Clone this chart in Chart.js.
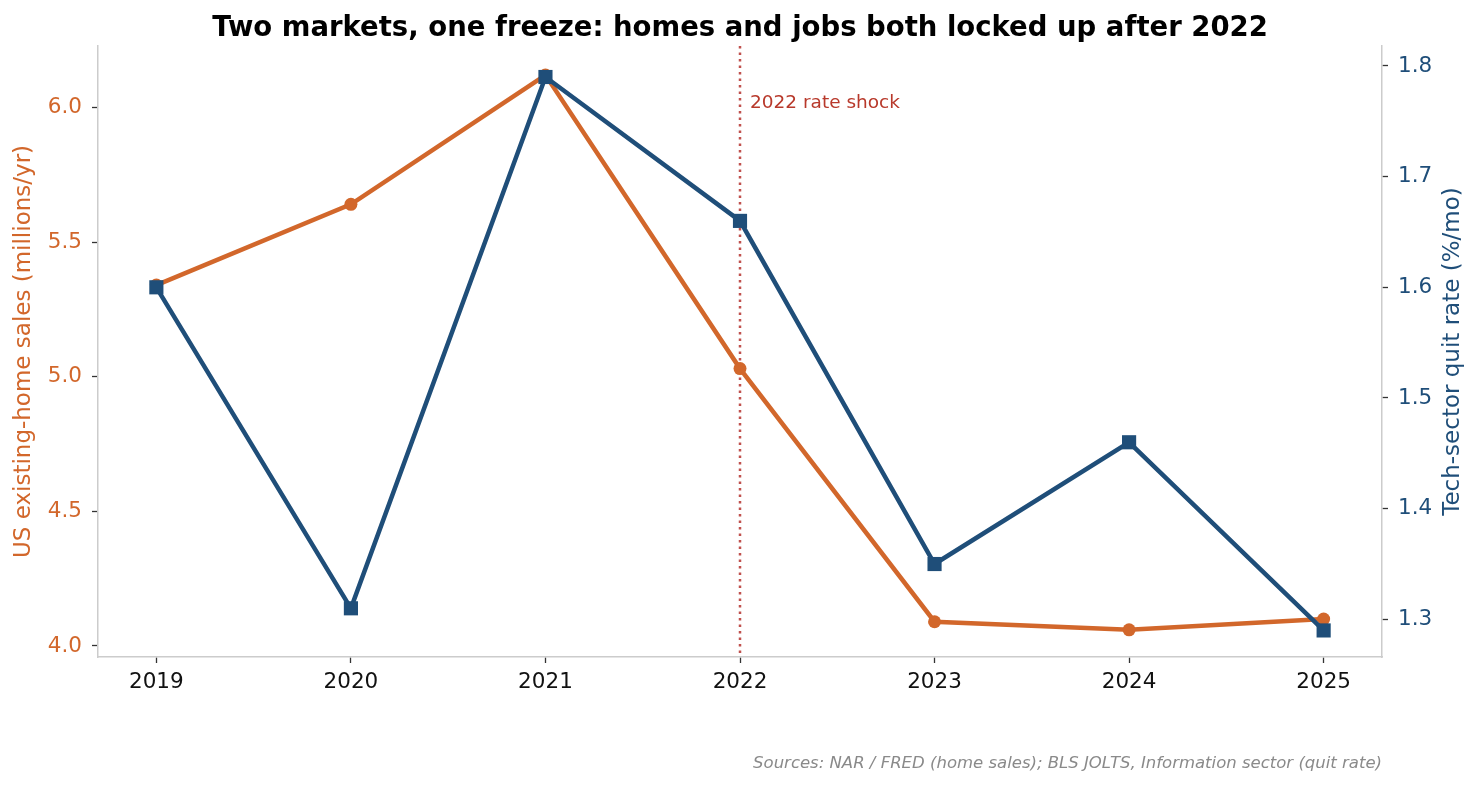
<!DOCTYPE html>
<html>
<head>
<meta charset="utf-8">
<script src="https://cdn.jsdelivr.net/npm/chart.js@4"></script>
<style>
  body { margin: 0; background: #fff; }
  #wrap { width: 1480px; height: 788px; position: relative; }
</style>
</head>
<body>
<div id="wrap"><canvas id="chart"></canvas></div>
<script>
// data
const years = [2019, 2020, 2021, 2022, 2023, 2024, 2025];
const homeSales = [5.34, 5.64, 6.12, 5.03, 4.09, 4.06, 4.10];
const quitRate = [1.60, 1.31, 1.79, 1.66, 1.35, 1.46, 1.29];
const leftTicks = [4.0, 4.5, 5.0, 5.5, 6.0];
const rightTicks = [1.3, 1.4, 1.5, 1.6, 1.7, 1.8];
const shockYear = 2022;

const ORANGE = '#d2672b';
const BLUE = '#1f4e79';
const FONT = '"DejaVu Sans", sans-serif';

const extras = {
  id: 'extras',
  beforeDatasetsDraw(chart) {
    const ctx = chart.ctx;
    const x = chart.scales.x.getPixelForValue(shockYear);
    const area = chart.chartArea;
    ctx.save();
    ctx.strokeStyle = '#c0504d';
    ctx.lineWidth = 2.5;
    ctx.setLineDash([2.5, 4]);
    ctx.beginPath();
    ctx.moveTo(x, area.top);
    ctx.lineTo(x, area.bottom);
    ctx.stroke();
    ctx.restore();
  },
  afterDraw(chart) {
    const ctx = chart.ctx;
    const area = chart.chartArea;
    const x = chart.scales.x.getPixelForValue(shockYear);
    const midY = (area.top + area.bottom) / 2;

    ctx.save();
    ctx.textBaseline = 'middle';
    // title
    ctx.fillStyle = '#000';
    ctx.font = 'bold 27.5px ' + FONT;
    ctx.textAlign = 'center';
    ctx.fillText('Two markets, one freeze: homes and jobs both locked up after 2022', (area.left + area.right) / 2, 28.5);
    // annotation
    ctx.fillStyle = '#b8392b';
    ctx.font = '18.5px ' + FONT;
    ctx.textAlign = 'left';
    ctx.fillText('2022 rate shock', x + 10, 103);
    // source
    ctx.fillStyle = '#8a8a8a';
    ctx.font = 'italic 16.5px ' + FONT;
    ctx.textAlign = 'right';
    ctx.fillText('Sources: NAR / FRED (home sales); BLS JOLTS, Information sector (quit rate)', area.right, 764);
    ctx.restore();

    // axis titles, both reading bottom to top
    ctx.save();
    ctx.textBaseline = 'middle';
    ctx.textAlign = 'center';
    ctx.font = '23px ' + FONT;
    ctx.fillStyle = ORANGE;
    ctx.translate(24, midY);
    ctx.rotate(-Math.PI / 2);
    ctx.fillText('US existing-home sales (millions/yr)', 0, 0);
    ctx.restore();

    ctx.save();
    ctx.textBaseline = 'middle';
    ctx.textAlign = 'center';
    ctx.font = '23px ' + FONT;
    ctx.fillStyle = BLUE;
    ctx.translate(1453, midY);
    ctx.rotate(-Math.PI / 2);
    ctx.fillText('Tech-sector quit rate (%/mo)', 0, 0);
    ctx.restore();
  }
};

const axisGrid = { display: true, drawOnChartArea: false, drawTicks: true, tickLength: 6, tickColor: '#333', tickWidth: 1.3 };
const axisBorder = { display: true, color: '#cccccc', width: 1.5 };

new Chart(document.getElementById('chart').getContext('2d'), {
  type: 'line',
  data: {
    datasets: [
      {
        label: 'Home sales',
        data: years.map((y, i) => ({ x: y, y: homeSales[i] })),
        yAxisID: 'y',
        borderColor: ORANGE,
        backgroundColor: ORANGE,
        borderWidth: 4.5,
        pointStyle: 'circle',
        pointRadius: 6.5,
        pointBorderWidth: 0,
        pointBackgroundColor: ORANGE,
        tension: 0,
        order: 2
      },
      {
        label: 'Quit rate',
        data: years.map((y, i) => ({ x: y, y: quitRate[i] })),
        yAxisID: 'y1',
        borderColor: BLUE,
        backgroundColor: BLUE,
        borderWidth: 4.5,
        pointStyle: 'rect',
        pointRadius: 10,
        pointBorderWidth: 0,
        pointBackgroundColor: BLUE,
        tension: 0,
        order: 1
      }
    ]
  },
  options: {
    responsive: true,
    maintainAspectRatio: false,
    animation: false,
    layout: { padding: { top: 46, left: 0, right: 0, bottom: 0 } },
    plugins: { legend: { display: false }, tooltip: { enabled: false } },
    scales: {
      x: {
        type: 'linear',
        min: 2018.7,
        max: 2025.3,
        grid: axisGrid,
        border: axisBorder,
        afterBuildTicks: s => { s.ticks = years.map(v => ({ value: v })); },
        afterFit: s => { s.height = 131; },
        ticks: { color: '#111', font: { family: FONT, size: 21.5 }, padding: 7, callback: v => String(v) }
      },
      y: {
        position: 'left',
        min: 3.959,
        max: 6.228,
        grid: axisGrid,
        border: axisBorder,
        afterBuildTicks: s => { s.ticks = leftTicks.map(v => ({ value: v })); },
        afterFit: s => { s.width = 98; },
        ticks: { color: ORANGE, font: { family: FONT, size: 21.5 }, padding: 10, callback: v => v.toFixed(1) }
      },
      y1: {
        position: 'right',
        min: 1.266,
        max: 1.818,
        grid: axisGrid,
        border: axisBorder,
        afterBuildTicks: s => { s.ticks = rightTicks.map(v => ({ value: v })); },
        afterFit: s => { s.width = 98; },
        ticks: { color: BLUE, font: { family: FONT, size: 21.5 }, padding: 10, callback: v => v.toFixed(1) }
      }
    }
  },
  plugins: [extras]
});
</script>
</body>
</html>
